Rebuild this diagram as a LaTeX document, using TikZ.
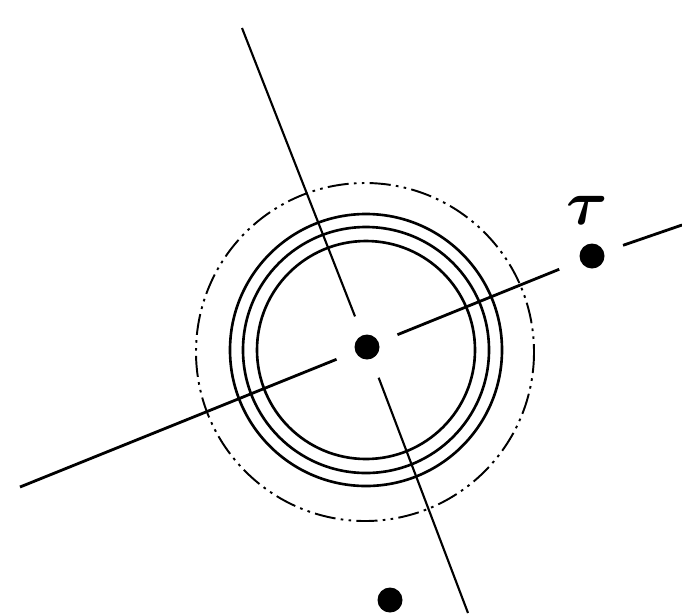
\documentclass[tikz,border=0pt]{standalone}
\usepackage{bm}
\usetikzlibrary{positioning}

\begin{document}
\begin{tikzpicture}[x=0.02cm,y=-0.02cm,
  dot/.style={circle,fill=black,inner sep=0pt,minimum size=0.5cm},
  ring/.style={line width=1.5pt},
  gap/.style={shorten <=0.4cm}]
\useasboundingbox (0,0) rectangle (682,613);
% dots
\node[dot] (o) at (367,347) {};
\node[dot] (t) at (592,256) {};
\node[dot] (b) at (390,600) {};
\node[above=0.36cm of t,xshift=-0.1cm,inner sep=0pt,font=\Huge,scale=1.45] (tlab) {$\bm{\tau}$};
% free ends of the two lines
\coordinate (n) at (242,28);
\coordinate (s) at (468,613);
\coordinate (w) at (20,487);
\coordinate (e) at (682,225);
% circles
\coordinate (c) at (366,350);
\draw[ring] (c) circle (136);
\draw[ring] (c) circle (123);
\draw[ring] (c) circle (109);
\draw[line width=1.1pt,dash pattern=on 12pt off 3pt on 1.5pt off 3pt on 1.5pt off 3pt] (365,352) circle (169);
% lines
\draw[line width=1.2pt,shorten >=0.4cm] (n)--(o);
\draw[line width=1.2pt,gap] (o)--(s);
\draw[line width=1.6pt,shorten >=0.4cm] (w)--(o);
\draw[line width=1.6pt,gap,shorten >=0.45cm] (o)--(t);
\draw[line width=1.6pt,gap] (t)--(e);
\end{tikzpicture}
\end{document}
